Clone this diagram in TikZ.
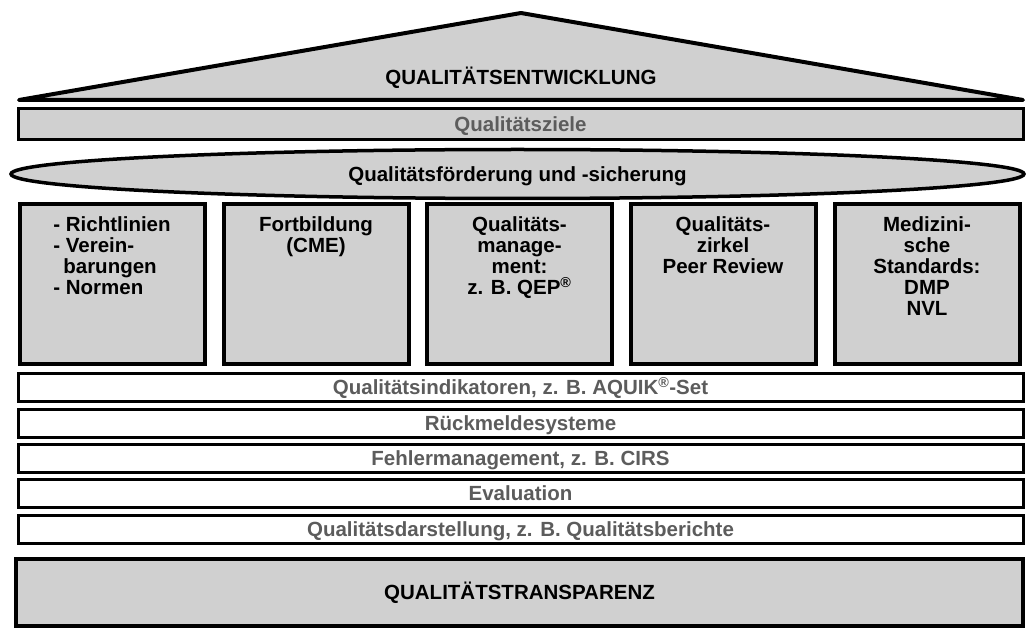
\documentclass[tikz,border=0pt]{standalone}
\usepackage{fontspec}
\setmainfont{Liberation Sans}
\usetikzlibrary{shapes.geometric}
\definecolor{fillgray}{RGB}{208,208,208}
\definecolor{txtgray}{RGB}{92,92,92}
\begin{document}
\begin{tikzpicture}[x=1pt,y=-1pt,
  every node/.style={font=\fontsize{20.5}{21}\selectfont\bfseries, inner sep=0pt, outer sep=0pt},
  oneline/.style={text height=14.7pt, text depth=0pt},
  pillar/.style={draw, line width=4pt, fill=fillgray, minimum width=185pt, minimum height=160pt},
  bar/.style={oneline, draw, line width=3pt, fill=white, minimum width=1005pt, minimum height=28pt, text=txtgray},
  coltext/.style={anchor=north, align=center, yshift=-13pt},
]
\useasboundingbox (0,0) rectangle (1033,628);
% roof
\coordinate (apex) at (521,13);
\coordinate (rl) at (19,100);
\coordinate (rr) at (1023,100);
\draw[line width=4pt, fill=fillgray, line join=round] (rl) -- (apex) -- (rr) -- cycle;
\node[oneline] (roof) at (521,77.5) {QUALITÄTSENTWICKLUNG};
% goals bar
\node[oneline, draw, line width=3pt, fill=fillgray, minimum width=1005pt, minimum height=31pt, text=txtgray] (ziele) at (520.5,124.5) {Qualitätsziele};
% ellipse
\node[oneline, ellipse, draw, line width=3.5pt, fill=fillgray, minimum width=1013pt, minimum height=49pt] (foerd) at (517.5,174) {Qualitätsförderung und -sicherung};
% pillars
\node[pillar] (p1) at (112,284) {};
\node[pillar] (p2) at (316,284) {};
\node[pillar] (p3) at (519.5,284) {};
\node[pillar] (p4) at (723,284) {};
\node[pillar] (p5) at (927,284) {};
\node[coltext, align=left] (t1) at (p1.north) {- Richtlinien\\- Verein-\\\hspace*{10pt}barungen\\- Normen};
\node[coltext] (t2) at (p2.north) {Fortbildung\\(CME)};
\node[coltext] (t3) at (p3.north) {Qualitäts-\\manage-\\ment:\\z. B. QEP\textsuperscript{®}};
\node[coltext] (t4) at (p4.north) {Qualitäts-\\zirkel\\Peer Review};
\node[coltext] (t5) at (p5.north) {Medizini-\\sche\\Standards:\\DMP\\NVL};
% bars
\node[bar] (b1) at (520.5,387.5) {Qualitätsindikatoren, z. B. AQUIK\textsuperscript{®}-Set};
\node[bar] (b2) at (520.5,423) {Rückmeldesysteme};
\node[bar] (b3) at (520.5,458.5) {Fehlermanagement, z. B. CIRS};
\node[bar] (b4) at (520.5,493.5) {Evaluation};
\node[bar] (b5) at (520.5,529.5) {Qualitätsdarstellung, z. B. Qualitätsberichte};
% base
\node[oneline, draw, line width=4pt, fill=fillgray, minimum width=1007pt, minimum height=67pt] (base) at (519.5,592.5) {QUALITÄTSTRANSPARENZ};
\end{tikzpicture}
\end{document}
